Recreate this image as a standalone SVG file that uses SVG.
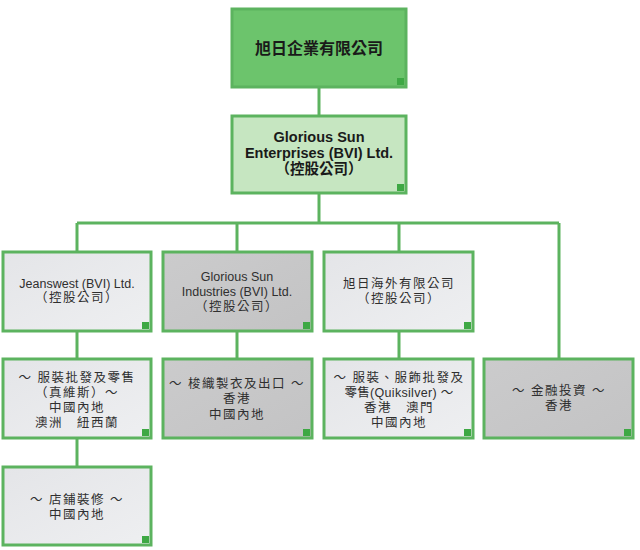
<svg xmlns="http://www.w3.org/2000/svg" width="640" height="550" viewBox="0 0 640 550">
<defs>
<linearGradient id="gLight" x1="0" y1="0" x2="1" y2="1">
<stop offset="0" stop-color="#e4e5e8"/>
<stop offset="1" stop-color="#eeeff1"/>
</linearGradient>
<linearGradient id="gDark" x1="0" y1="0" x2="1" y2="1">
<stop offset="0" stop-color="#cbcbcc"/>
<stop offset="1" stop-color="#c3c3c4"/>
</linearGradient>
</defs>
<style>
.box{stroke:#5cb35f;stroke-width:3}
.top{fill:#6cc46c}
.sec{fill:#c6e6c1}
.lt{fill:url(#gLight)}
.dk{fill:url(#gDark)}
.mk{fill:#3ea844}
.ln{stroke:#5cb35f;stroke-width:3;fill:none}
text{font-family:"Liberation Sans","Noto Sans CJK TC",sans-serif;text-anchor:middle}
.b{font-weight:bold;fill:#1a1a1a}
.t{font-size:12.5px;fill:#2f2f2f}
.c{letter-spacing:1.5px}
</style>
<g id="connectors">
<path class="ln" d="M319 88V115"/>
<path class="ln" d="M319 193V223"/>
<path class="ln" d="M77 223H559"/>
<path class="ln" d="M77 223V252M237 223V252M399 223V252M559 223V359"/>
<path class="ln" d="M77 331V359M237 331V359M399 331V359"/>
<path class="ln" d="M77 438V467"/>
</g>
<g id="n-top">
<rect class="box top" x="232" y="9" width="174" height="78"/>
<rect class="mk" x="397" y="78" width="7" height="7"/>
<text class="b" x="319" y="54" font-size="16">旭日企業有限公司</text>
</g>
<g id="n-gse">
<rect class="box sec" x="232" y="116" width="174" height="77"/>
<rect class="mk" x="397" y="184" width="7" height="7"/>
<text class="b" x="319" y="142" font-size="14.5">Glorious Sun</text>
<text class="b" x="319" y="158" font-size="14.5">Enterprises (BVI) Ltd.</text>
<text class="b" x="319" y="174" font-size="14.5">（控股公司）</text>
</g>
<g id="n-jw">
<rect class="box lt" x="3" y="252" width="148" height="79"/>
<rect class="mk" x="142" y="322" width="7" height="7"/>
<text class="t" x="77" y="288" font-size="13">Jeanswest (BVI) Ltd.</text>
<text class="t c" x="77" y="302">（控股公司）</text>
</g>
<g id="n-gsi">
<rect class="box dk" x="163" y="252" width="149" height="79"/>
<rect class="mk" x="303" y="322" width="7" height="7"/>
<text class="t" x="237" y="281" font-size="13">Glorious Sun</text>
<text class="t" x="237" y="296" font-size="13">Industries (BVI) Ltd.</text>
<text class="t c" x="237" y="311">（控股公司）</text>
</g>
<g id="n-os">
<rect class="box lt" x="324" y="252" width="149" height="79"/>
<rect class="mk" x="464" y="322" width="7" height="7"/>
<text class="t c" x="399" y="288">旭日海外有限公司</text>
<text class="t c" x="399" y="303">（控股公司）</text>
</g>
<g id="n-jw-retail">
<rect class="box lt" x="3" y="359" width="148" height="79"/>
<rect class="mk" x="142" y="429" width="7" height="7"/>
<text class="t c" x="77" y="382">～ 服裝批發及零售</text>
<text class="t c" x="77" y="397">（真維斯）～</text>
<text class="t c" x="77" y="412">中國內地</text>
<text class="t c" x="77" y="427">澳洲　紐西蘭</text>
</g>
<g id="n-knit">
<rect class="box dk" x="163" y="359" width="149" height="79"/>
<rect class="mk" x="303" y="429" width="7" height="7"/>
<text class="t c" x="237" y="388">～ 梭織製衣及出口 ～</text>
<text class="t c" x="237" y="403">香港</text>
<text class="t c" x="237" y="419">中國內地</text>
</g>
<g id="n-qs">
<rect class="box lt" x="324" y="359" width="149" height="79"/>
<rect class="mk" x="464" y="429" width="7" height="7"/>
<text class="t c" x="399" y="382">～ 服裝、服飾批發及</text>
<text class="t" x="399" y="397" letter-spacing="0.3">零售(Quiksilver) ～</text>
<text class="t c" x="399" y="412">香港　澳門</text>
<text class="t c" x="399" y="427">中國內地</text>
</g>
<g id="n-fin">
<rect class="box dk" x="484" y="359" width="149" height="79"/>
<rect class="mk" x="624" y="429" width="7" height="7"/>
<text class="t c" x="559" y="395">～ 金融投資 ～</text>
<text class="t c" x="559" y="410">香港</text>
</g>
<g id="n-shop">
<rect class="box lt" x="3" y="467" width="148" height="78"/>
<rect class="mk" x="142" y="536" width="7" height="7"/>
<text class="t c" x="77" y="504">～ 店鋪裝修 ～</text>
<text class="t c" x="77" y="519">中國內地</text>
</g>
</svg>
